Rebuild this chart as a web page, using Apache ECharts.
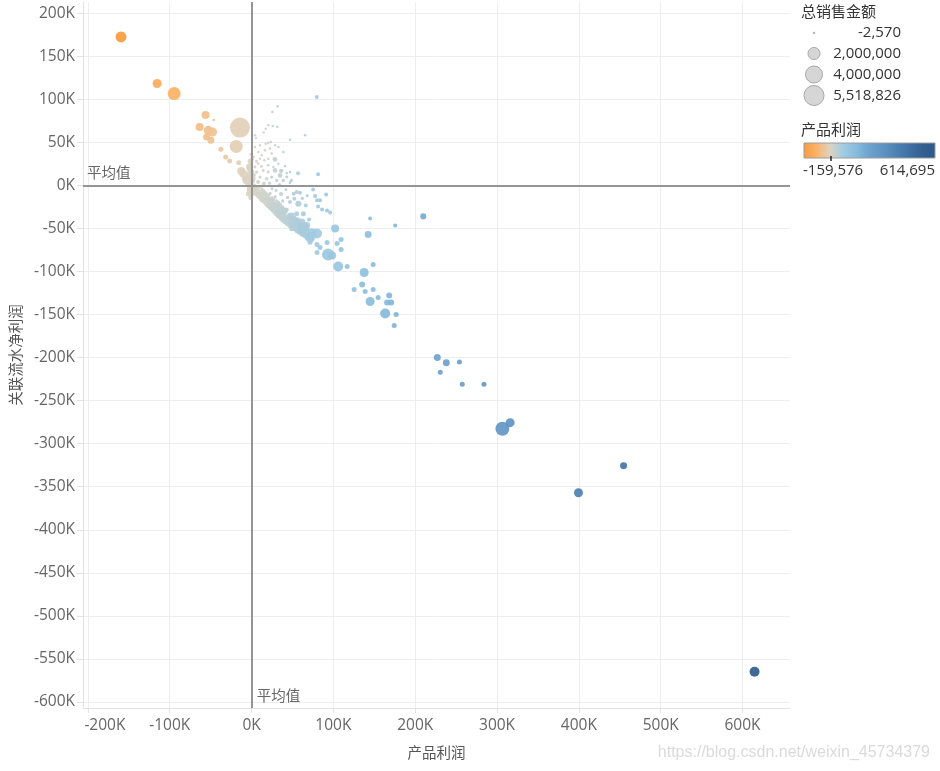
<!DOCTYPE html>
<html>
<head>
<meta charset="utf-8">
<script src="https://cdn.jsdelivr.net/npm/echarts@6/dist/echarts.min.js"></script>
<style>html,body{margin:0;padding:0;background:#fff}#c{width:940px;height:771px}</style>
</head>
<body>
<div id="c"></div>
<script>
// Each row: [产品利润, 关联流水净利润, 总销售金额]
const upperScatter = [
 [79700,102700,220000],[31900,91900,60000],[25500,85200,60000],[20400,69800,60000],[25800,69000,60000],
 [31500,67800,60000],[17300,65900,60000],[14800,61300,60000],[4200,58100,80000],[5400,55000,80000],
 [47000,53100,60000],[65400,58100,60000],[23700,50300,60000],[17300,48500,60000],[20400,49200,60000],
 [28600,46500,60000],[32700,44500,60000],[10300,46500,60000],[4200,44500,80000],[22500,42700,60000],
 [16400,40700,60000],[24600,36900,60000],[8200,38700,80000],[12400,34900,80000],[28600,30200,300000],
 [38800,38700,60000],[20400,31000,80000],[15500,29100,80000],[10300,31000,80000],[8200,25200,100000],
 [20400,23300,100000],[26600,21300,80000],[32700,25200,80000],[28600,17400,300000],[36800,17400,120000],
 [40900,22400,80000],[34800,11600,300000],[43000,9700,120000],[47000,15500,100000],[56800,14000,220000],
 [81300,12800,220000],[20400,15500,120000],[14300,17400,120000],[24600,9700,150000],[30700,5800,150000],
 [38800,5800,150000],[47000,3100,120000],[18500,7800,150000],[10300,9700,150000],[6200,15500,150000],
 [4200,21300,120000],[36000,16600,220000],[43000,14300,100000],[27400,31000,80000],[48600,5800,150000],
 [2500,33000,100000],[6000,28000,120000],[12000,22000,120000],[3000,12000,220000],[8000,4000,220000],
 [15000,2000,220000],[2000,5000,220000],[22000,2500,150000],[34000,1000,150000]
];
const band = [
 [1000,-2000,120000],[1500,-6000,150000],[2000,-1000,120000],[2600,-9000,150000],[3100,-4000,150000],
 [3400,500,120000],[4100,-7200,180000],[4600,-2800,150000],[5200,-10500,180000],[5600,-5100,150000],
 [6100,-1200,150000],[6700,-8300,180000],[7200,-12400,180000],[7600,-3800,150000],[8100,-9200,180000],
 [8700,-13600,200000],[9200,-6300,150000],[9800,-1800,120000],[10300,-11400,200000],[10800,-15200,200000],
 [11200,-7400,150000],[11700,-10100,180000],[12300,-17300,200000],[12600,-4200,150000],[13200,-13400,200000],
 [13800,-8800,180000],[14300,-18400,220000],[14700,-6100,150000],[15300,-15400,200000],[15800,-11200,180000],
 [16300,-20300,220000],[16600,-8400,150000],[17200,-16300,200000],[17800,-13100,180000],[18300,-22400,250000],
 [18700,-9800,150000],[19300,-18200,200000],[19800,-14600,180000],[20400,-24100,250000],[20800,-12300,150000],
 [21300,-20400,220000],[21900,-16200,180000],[22400,-26200,250000],[22700,-9400,150000],[23300,-22300,220000],
 [23800,-17400,200000],[24300,-27500,280000],[24800,-14100,150000],[25200,-23400,220000],[25700,-19200,200000],
 [26300,-29300,280000],[26800,-16400,180000],[27300,-25200,250000],[27700,-21300,220000],[28300,-31200,300000],
 [28800,-13400,150000],[29200,-27300,250000],[29700,-22500,220000],[30300,-33400,300000],[30800,-18300,180000],
 [31300,-29200,250000],[31700,-24400,220000],[32300,-35300,320000],[32800,-20400,200000],[33200,-31300,280000],
 [33700,-26100,250000],[34300,-36400,330000],[34800,-22200,220000],[35200,-33200,300000],[35700,-28400,250000],
 [36300,-38300,350000],[37200,-30100,280000],[37600,-25300,220000],[38300,-40200,380000],[39200,-35100,300000],
 [40200,-32300,280000],[41300,-42100,400000],[42200,-37200,330000],[43100,-28400,220000],[44200,-44300,420000],
 [45300,-39100,350000],[46200,-34400,300000],[47300,-46200,450000],[48200,-41300,380000],[49300,-37100,330000],
 [50200,-47400,450000],[51300,-43200,400000],[52200,-38400,350000],[53300,-50100,480000],[54200,-45300,420000],
 [55300,-41200,380000],[56200,-52300,500000],[57300,-47100,450000],[58200,-43400,400000],[59300,-54200,500000],
 [60200,-49300,450000],[62300,-56100,550000],[63200,-51200,480000],[64300,-46100,400000],[66200,-58300,550000],
 [67300,-53100,500000],[69200,-60200,600000],[72300,-62100,600000],[74200,-57300,500000],
 [47000,-36900,500000],[51000,-38800,500000],[56000,-40600,500000],[61300,-42600,675000],[67400,-46500,675000],
 [73500,-54300,880000]
];
const lowerScatter = [
 [47000,-19400,220000],[57200,-21300,500000],[66200,-23300,220000],[51500,-9700,220000],[55200,-7800,220000],
 [59200,-8500,220000],[52300,-15500,220000],[77600,-12300,220000],[40900,-29100,500000],[53100,-44500,500000],
 [59200,-44500,345000],[49100,-50300,345000],[63300,-32900,345000],[71500,-65900,345000],[75200,-4700,220000],
 [91100,-10500,220000],[80000,-17400,220000],[83700,-17400,220000],[81300,-24400,220000],[86200,-27900,220000],
 [92300,-29100,220000],[96000,-31400,220000],[70300,-39500,220000],[30000,-6000,120000],[36000,-10000,220000],
 [42000,-5000,120000],[25000,-4000,120000],[44000,-14000,150000],[62000,-15000,150000],[68000,-12000,120000],
 [38000,-18000,150000],[49000,-35000,500000],[55000,-33000,345000]
];
const beigeGroup = [
 [-14200,67100,5518826],[-18700,45300,2330000],[-15800,26400,345000],[-12600,16600,880000],[-10100,13600,880000],
 [-8100,7800,500000],[-6000,5800,880000],[-4000,3800,675000],[-4000,-9700,345000],[-2500,20000,500000],
 [-1500,10000,675000],[-2000,-3000,500000],[-1000,-14000,345000],[-3000,14000,345000],[-500,25000,220000],
 [-800,36000,120000],[300,30000,220000],[-1200,2000,500000],[500,-8000,345000],[200,16000,345000],
 [-3000,22000,500000],[-1800,28000,345000],[-2200,-6000,500000],[-500,-11000,345000],[1200,8000,500000],
 [1800,-4000,500000],[-5000,10000,500000]
];
const orangeGroup = [
 [-159576,172400,1670000],[-115400,118300,1120000],[-94600,106600,2330000],[-56200,81700,880000],
 [-46400,75900,90000],[-63500,67800,880000],[-53000,64000,1120000],[-47600,62000,1120000],
 [-55000,56200,675000],[-49700,52300,675000],[-37500,41900,345000],[-31700,32900,345000],[-26800,28300,345000]
];
const midGroup = [
 [62900,-50000,2000000],[80000,-55800,1380000],[71500,-60500,1380000],[109400,-62800,345000],[92300,-66300,345000],
 [104500,-67400,345000],[80000,-68600,345000],[83700,-72100,345000],[109400,-74400,345000],[80000,-77900,345000],
 [93500,-80200,2000000],[98400,-81400,880000],[105800,-94200,1380000],[116800,-94200,345000],[137600,-101200,1120000],
 [148600,-91900,345000],[135100,-115100,500000],[125300,-121000,345000],[138800,-123300,345000],[148600,-121000,345000],
 [154700,-130200,345000],[168200,-127900,500000],[144900,-134900,1120000],[165700,-136000,500000],[170600,-136000,500000],
 [163300,-148800,1380000],[176700,-150000,345000],[174300,-162800,345000],[102100,-50000,880000],[144900,-38400,220000],
 [175500,-46500,220000],[209800,-36000,500000],[142500,-57000,675000]
];
const topGroup = [
 [227000,-200000,675000],[238000,-206000,675000],[254000,-205000,345000],[230600,-217000,345000],
 [257500,-231000,345000],[284000,-231000,345000],[306500,-282600,2700000],[316000,-275600,1120000],
 [454600,-325600,675000],[399500,-357000,1120000],[614695,-565000,1380000]
];

const PROFIT_MIN = -159576, PROFIT_MAX = 614695;
const SALES_MAX = 5518826;
const sizeLegend = [-2570, 2000000, 4000000, 5518826];
const sizeLegendText = ['-2,570', '2,000,000', '4,000,000', '5,518,826'];
const AVG_X = 300, AVG_Y = -300;
const colorStops = ['#f89a3a','#fbb46a','#ddd3c2','#a2cbe1','#86bcdd','#6ca2cd','#5e93c3','#4e82b4','#3f71a4','#345f92','#2b5a89'];

const allPoints = [].concat(upperScatter, band, lowerScatter, beigeGroup, orangeGroup, midGroup, topGroup);
const sizeOf = s => Math.max(2.5, 20 * Math.sqrt(Math.max(s, 0) / SALES_MAX));

const FONT = "'Open Sans', 'Noto Sans CJK SC', sans-serif";
const CJK = "'Noto Sans CJK SC', sans-serif";
const kFmt = v => (Math.round(v / 1000)) + 'K';
// first in-range x label is nudged inside the plot, as in the reference
const xFmt = v => v === -200000 ? '{edge|' + kFmt(v) + '}' : kFmt(v);

const chart = echarts.init(document.getElementById('c'));
chart.setOption({
  animation: false,
  backgroundColor: '#fff',
  grid: { left: 83, right: 150, top: 2, bottom: 63, containLabel: false },
  xAxis: {
    type: 'value', min: -206000, max: 658000, splitNumber: 9,
    name: '产品利润', nameLocation: 'middle', nameGap: 37,
    nameTextStyle: { fontFamily: CJK, fontSize: 14.5, color: '#555' },
    axisLine: { show: true, onZero: false, lineStyle: { color: '#e2e2e2' } },
    axisTick: { show: true, length: 5, lineStyle: { color: '#e2e2e2' } },
    axisLabel: { formatter: xFmt, color: '#666', fontSize: 15.5, fontFamily: FONT, margin: 10,
      showMinLabel: false, showMaxLabel: false,
      rich: { edge: { color: '#666', fontSize: 15.5, fontFamily: FONT, padding: [0, 0, 0, 34] } } },
    splitLine: { show: true, showMaxLine: false, lineStyle: { color: '#eeeeee' } }
  },
  yAxis: {
    type: 'value', min: -607000, max: 213000, splitNumber: 16,
    name: '关联流水净利润', nameLocation: 'middle', nameGap: 58, nameRotate: 90,
    nameTextStyle: { fontFamily: CJK, fontSize: 14.5, color: '#555' },
    axisLine: { show: true, onZero: false, lineStyle: { color: '#e2e2e2' } },
    axisTick: { show: true, length: 6, lineStyle: { color: '#e2e2e2' } },
    axisLabel: { formatter: kFmt, color: '#666', fontSize: 15.5, fontFamily: FONT, margin: 8, showMinLabel: false, showMaxLabel: false },
    splitLine: { show: true, showMaxLine: false, lineStyle: { color: '#eeeeee' } }
  },
  visualMap: {
    type: 'continuous', show: false, dimension: 0, seriesIndex: 0,
    min: PROFIT_MIN, max: PROFIT_MAX, inRange: { color: colorStops }
  },
  series: [{
    type: 'scatter',
    data: allPoints,
    symbolSize: v => sizeOf(v[2]),
    itemStyle: { opacity: 0.9 },
    markLine: {
      silent: true, symbol: 'none', animation: false,
      lineStyle: { color: '#959595', width: 2, type: 'solid' },
      label: { show: false },
      data: [{ xAxis: AVG_X }, { yAxis: AVG_Y }]
    }
  }]
});

const avgPx = chart.convertToPixel({ gridIndex: 0 }, [AVG_X, AVG_Y]);
const leftPx = chart.convertToPixel({ xAxisIndex: 0 }, -206000);
const bottomPx = chart.convertToPixel({ yAxisIndex: 0 }, -607000);

const graphics = [];
graphics.push({ type: 'text', left: leftPx + 4, top: avgPx[1] - 20, style: { text: '平均值', font: '14.5px ' + CJK, fill: '#666' } });
graphics.push({ type: 'text', left: avgPx[0] + 5, top: bottomPx - 20, style: { text: '平均值', font: '14.5px ' + CJK, fill: '#666' } });

// size legend
graphics.push({ type: 'text', left: 801, top: 4, style: { text: '总销售金额', font: '15px ' + CJK, fill: '#333' } });
const legY = [33, 53.5, 74.5, 95.5];
sizeLegend.forEach((s, i) => {
  const r = sizeOf(s) / 2;
  graphics.push({ type: 'circle', shape: { cx: 814, cy: legY[i], r: r },
    style: i === 0 ? { fill: '#b5b5b5' } : { fill: '#d6d6d6', stroke: '#a8a8a8', lineWidth: 1 } });
  graphics.push({ type: 'text', x: 901, y: legY[i], style: { text: sizeLegendText[i], font: '15px ' + FONT, fill: '#333', align: 'right', verticalAlign: 'middle' } });
});

// color legend
graphics.push({ type: 'text', left: 801, top: 122, style: { text: '产品利润', font: '15px ' + CJK, fill: '#333' } });
graphics.push({ type: 'rect', shape: { x: 804, y: 143, width: 131, height: 15 },
  style: { stroke: '#9c9c9c', lineWidth: 1,
    fill: new echarts.graphic.LinearGradient(0, 0, 1, 0, colorStops.map((c, i) => ({ offset: i / (colorStops.length - 1), color: c }))) } });
const zeroX = 804 + 131 * (0 - PROFIT_MIN) / (PROFIT_MAX - PROFIT_MIN);
graphics.push({ type: 'line', shape: { x1: zeroX, y1: 156, x2: zeroX, y2: 161 }, style: { stroke: '#222', lineWidth: 1.5 } });
graphics.push({ type: 'text', x: 803, y: 171, style: { text: '-159,576', font: '15px ' + FONT, fill: '#333', verticalAlign: 'middle' } });
graphics.push({ type: 'text', x: 935, y: 171, style: { text: '614,695', font: '15px ' + FONT, fill: '#333', align: 'right', verticalAlign: 'middle' } });

// watermark
graphics.push({ type: 'text', x: 930, y: 753, style: { text: 'https://blog.csdn.net/weixin_45734379', font: '16px Arial, "Liberation Sans", sans-serif', fill: '#dadada', align: 'right', verticalAlign: 'middle' } });

chart.setOption({ graphic: graphics });
</script>
</body>
</html>
